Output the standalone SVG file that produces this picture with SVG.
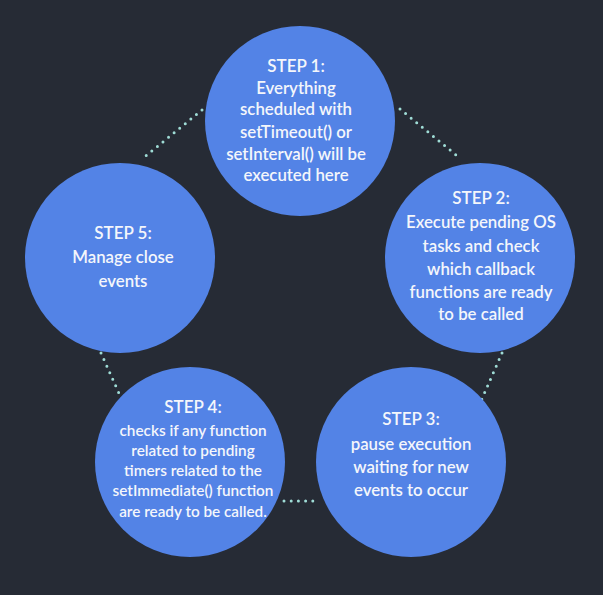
<svg xmlns="http://www.w3.org/2000/svg" width="603" height="595" viewBox="0 0 603 595">
<style>
.bg{fill:#262b35}
.node circle{fill:#5383e6}
.node text{fill:#f4f6fb;font-family:Lato,"Open Sans","Liberation Sans",sans-serif;font-weight:600;text-anchor:middle}
.t{font-size:17px}
.b{font-size:16.8px}
.s{font-size:15.3px}
.dots line{stroke:#9fdcd6;stroke-width:3;stroke-linecap:round;stroke-dasharray:0 7.2}
</style>
<rect class="bg" x="0" y="0" width="603" height="595"/>
<g id="connectors" class="dots">
<line x1="400" y1="109" x2="461" y2="159"/>
<line x1="202" y1="110" x2="142" y2="159"/>
<line x1="502" y1="353" x2="481" y2="401"/>
<line x1="101" y1="353" x2="122" y2="400"/>
<line x1="284" y1="501" x2="319" y2="501"/>
</g>
<g id="step1" class="node">
<circle cx="300" cy="121" r="95"/>
<text class="t" x="296" y="72">STEP 1:</text>
<text class="b" x="296" y="94">Everything</text>
<text class="b" x="296" y="115">scheduled with</text>
<text class="b" x="296" y="138">setTimeout() or</text>
<text class="b" x="296" y="160">setInterval() will be</text>
<text class="b" x="296" y="181">executed here</text>
</g>
<g id="step2" class="node">
<circle cx="480" cy="258" r="95"/>
<text class="t" x="481" y="204">STEP 2:</text>
<text class="b" x="481" y="228">Execute pending OS</text>
<text class="b" x="481" y="252">tasks and check</text>
<text class="b" x="481" y="275">which callback</text>
<text class="b" x="481" y="298">functions are ready</text>
<text class="b" x="481" y="320">to be called</text>
</g>
<g id="step3" class="node">
<circle cx="411" cy="462" r="95"/>
<text class="t" x="411" y="425">STEP 3:</text>
<text class="b" x="411" y="450">pause execution</text>
<text class="b" x="411" y="473">waiting for new</text>
<text class="b" x="411" y="496">events to occur</text>
</g>
<g id="step4" class="node">
<circle cx="190" cy="462" r="95"/>
<text class="t" x="193" y="413">STEP 4:</text>
<text class="s" x="193" y="436">checks if any function</text>
<text class="s" x="193" y="456">related to pending</text>
<text class="s" x="193" y="476">timers related to the</text>
<text class="s" x="193" y="496">setImmediate() function</text>
<text class="s" x="193" y="517">are ready to be called.</text>
</g>
<g id="step5" class="node">
<circle cx="120" cy="258" r="95"/>
<text class="t" x="123" y="239">STEP 5:</text>
<text class="b" x="123" y="263">Manage close</text>
<text class="b" x="123" y="287">events</text>
</g>
</svg>
